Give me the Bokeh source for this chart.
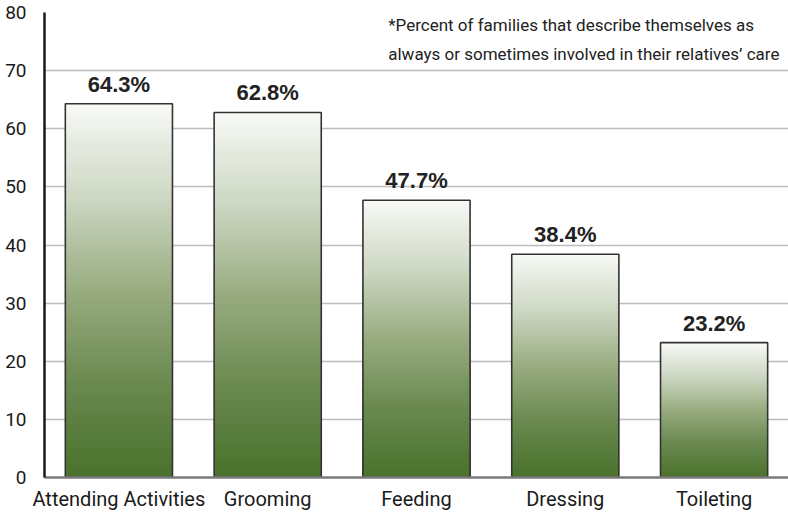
import numpy as np
from bokeh.plotting import figure
from bokeh.models import FactorRange, Range1d, ColumnDataSource, SingleIntervalTicker
from bokeh.core.properties import value
from bokeh.embed import file_html
from bokeh.resources import INLINE

# Share of families involved in each kind of care (percent)
categories = ["Attending Activities", "Grooming", "Feeding", "Dressing", "Toileting"]
percents = [64.3, 62.8, 47.7, 38.4, 23.2]
value_labels = ["64.3%", "62.8%", "47.7%", "38.4%", "23.2%"]
note_lines = [
    "*Percent of families that describe themselves as",
    "always or sometimes involved in their relatives\u2019 care",
]

FONT = "Roboto"
BAR_W = 0.72

p = figure(
    x_range=FactorRange(*categories, range_padding=0),
    y_range=Range1d(0, 80),
    width=788, height=515,
    frame_width=744, frame_height=465,
    min_border_left=44, min_border_right=0, min_border_top=12, min_border_bottom=38,
    output_backend="svg", toolbar_location=None,
    background_fill_color="white", border_fill_color="white",
)
p.outline_line_color = None

# horizontal gridlines every 10
p.xgrid.grid_line_color = None
p.ygrid.grid_line_color = "#bdbdbd"
p.ygrid.grid_line_width = 1.5
p.yaxis.ticker = SingleIntervalTicker(interval=10)

# vertical gradient: near-white at the bar top to dark green at the base
stops_t = np.array([0.0, 0.25, 0.5, 0.75, 1.0])
stops_rgb = np.array([
    [247, 249, 245],
    [205, 215, 195],
    [152, 172, 128],
    [106, 137, 80],
    [74, 114, 44],
])

def shade(t):
    rgb = [int(round(np.interp(t, stops_t, stops_rgb[:, k]))) for k in range(3)]
    return "#%02x%02x%02x" % tuple(rgb)

# each layer runs from 0 up to a fraction of the bar; later (shorter, darker)
# layers cover the lower part of earlier ones, leaving a seamless gradient
N = 120
xs, tops, colors = [], [], []
for i in range(N):
    for cat, v in zip(categories, percents):
        xs.append(cat)
        tops.append(v * (1 - i / N))
        colors.append(shade(i / (N - 1)))

grad = ColumnDataSource(dict(x=xs, top=tops, color=colors))
p.vbar(x="x", top="top", bottom=0, width=BAR_W, source=grad,
       fill_color="color", line_color=None)

bars = ColumnDataSource(dict(x=categories, top=percents, label=value_labels))
p.vbar(x="x", top="top", bottom=0, width=BAR_W, source=bars,
       fill_color=None, line_color="#333333", line_width=1.6)

# value labels above each bar
p.text(x="x", y="top", text="label", source=bars, y_offset=-7,
       text_align="center", text_baseline="bottom",
       text_font=value("Liberation Sans"), text_font_style="bold",
       text_font_size="22px", text_color="#222222")

# footnote in the upper right
p.text(x=[2.31, 2.31], y=[77.9, 72.9], text=note_lines,
       text_align="left", text_baseline="middle",
       text_font=value(FONT), text_font_size="17px", text_color="#222222")

# axes
p.yaxis.axis_line_color = "#1a1a1a"
p.yaxis.axis_line_width = 2.5
p.yaxis.major_tick_line_color = None
p.yaxis.minor_tick_line_color = None
p.yaxis.major_label_standoff = 12
p.yaxis.major_label_text_font = FONT
p.yaxis.major_label_text_font_size = "19px"
p.yaxis.major_label_text_color = "#1a1a1a"
p.yaxis.major_label_text_baseline = "top"

p.xaxis.axis_line_color = "#7a7a7a"
p.xaxis.axis_line_width = 2.5
p.xaxis.major_tick_line_color = None
p.xaxis.minor_tick_line_color = None
p.xaxis.major_label_standoff = 3
p.xaxis.major_label_text_font = FONT
p.xaxis.major_label_text_font_size = "20px"
p.xaxis.major_label_text_color = "#1a1a1a"

open("out.html", "w").write(file_html(p, INLINE))
